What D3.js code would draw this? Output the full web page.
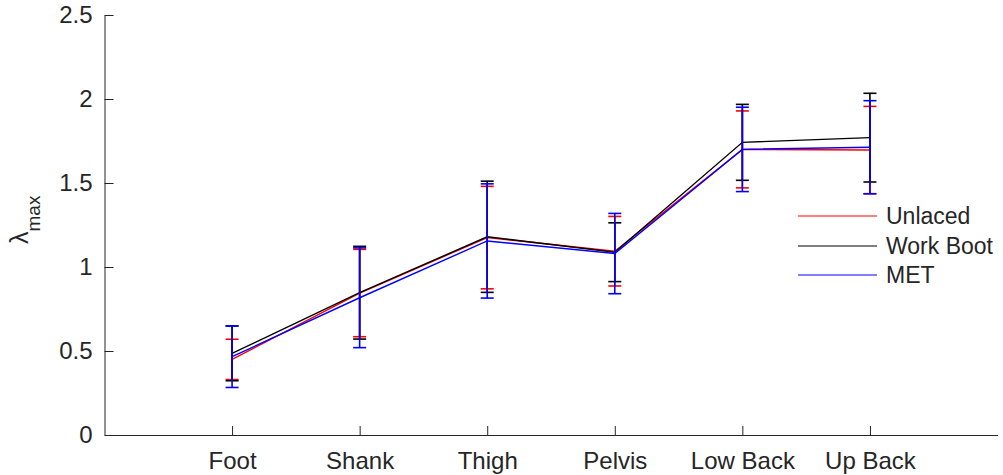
<!DOCTYPE html>
<html>
<head>
<meta charset="utf-8">
<script src="https://cdn.jsdelivr.net/npm/d3@7"></script>
<style>
  html, body { margin: 0; padding: 0; background: #fff; }
  svg { display: block; font-family: "Liberation Sans", Arial, sans-serif; }
</style>
</head>
<body>
<svg id="chart" width="1003" height="475"></svg>
<script>
// Body segments along the x axis
const segments = ["Foot", "Shank", "Thigh", "Pelvis", "Low Back", "Up Back"];
const yTicks = [0, 0.5, 1, 1.5, 2, 2.5];

// Mean lambda_max per segment and its error (half-length of the bar)
const unlacedMean   = [0.450, 0.845, 1.175, 1.094, 1.700, 1.696];
const unlacedErr    = [0.120, 0.260, 0.305, 0.207, 0.229, 0.260];
const workBootMean  = [0.486, 0.847, 1.180, 1.088, 1.742, 1.770];
const workBootErr   = [0.163, 0.276, 0.331, 0.175, 0.226, 0.264];
const metMean       = [0.466, 0.817, 1.155, 1.080, 1.700, 1.713];
const metErr        = [0.183, 0.297, 0.340, 0.239, 0.251, 0.277];

const seriesNames  = ["Unlaced", "Work Boot", "MET"];
const seriesColors = ["#ff0000", "#000000", "#0000ff"];

const series = [
  { name: seriesNames[0], color: seriesColors[0], mean: unlacedMean,  err: unlacedErr },
  { name: seriesNames[1], color: seriesColors[1], mean: workBootMean, err: workBootErr },
  { name: seriesNames[2], color: seriesColors[2], mean: metMean,      err: metErr }
];

const svg = d3.select("#chart");
const axisColor = "#262626";

const x = d3.scalePoint().domain(segments).range([104.5, 997.5]).padding(1);
const y = d3.scaleLinear().domain([0, 2.5]).range([435, 15]);

// Y axis (ticks pointing inward)
const yAxis = svg.append("g")
  .attr("transform", "translate(104.5,0)")
  .call(d3.axisRight(y).tickValues(yTicks).tickSize(9).tickSizeOuter(0)
        .tickFormat(d => String(d)));
yAxis.select(".domain").attr("stroke", axisColor);
yAxis.selectAll(".tick line").attr("stroke", axisColor);
yAxis.selectAll(".tick text")
  .attr("x", -12).attr("text-anchor", "end")
  .attr("fill", axisColor).style("font-size", "24px");

// X axis (ticks pointing inward)
const xAxis = svg.append("g")
  .attr("transform", "translate(0,435)")
  .call(d3.axisTop(x).tickSize(9).tickSizeOuter(0));
xAxis.select(".domain").attr("stroke", axisColor);
xAxis.selectAll(".tick line").attr("stroke", axisColor);
xAxis.selectAll(".tick text")
  .attr("y", 34).attr("dy", 0)
  .attr("fill", axisColor).style("font-size", "24px");

// Y axis label: lambda with subscript "max"
const yl = svg.append("text")
  .attr("transform", "translate(28,244) rotate(-90)")
  .attr("fill", axisColor)
  .style("font-size", "25px");
yl.append("tspan").text("\u03BB");
yl.append("tspan").attr("dy", 12).style("font-size", "19px").text("max");

// Error bars and mean lines, one series after another
const capHalf = 6.5;
const line = d3.line().x(d => x(d.seg)).y(d => y(d.v));

series.forEach(s => {
  const pts = segments.map((seg, i) => ({ seg, v: s.mean[i], e: s.err[i] }));
  const g = svg.append("g");
  g.append("path")
    .datum(pts)
    .attr("fill", "none")
    .attr("stroke", s.color)
    .attr("stroke-width", 1.4)
    .attr("d", line);
  const bars = g.selectAll(".bar").data(pts).enter().append("g");
  bars.append("line")
    .attr("x1", d => x(d.seg)).attr("x2", d => x(d.seg))
    .attr("y1", d => y(d.v - d.e)).attr("y2", d => y(d.v + d.e))
    .attr("stroke", s.color).attr("stroke-width", 1.6);
  bars.append("line")
    .attr("x1", d => x(d.seg) - capHalf).attr("x2", d => x(d.seg) + capHalf)
    .attr("y1", d => y(d.v + d.e)).attr("y2", d => y(d.v + d.e))
    .attr("stroke", s.color).attr("stroke-width", 1.6);
  bars.append("line")
    .attr("x1", d => x(d.seg) - capHalf).attr("x2", d => x(d.seg) + capHalf)
    .attr("y1", d => y(d.v - d.e)).attr("y2", d => y(d.v - d.e))
    .attr("stroke", s.color).attr("stroke-width", 1.6);
});

// Legend
const legend = svg.append("g");
const legendY = [216, 246, 275];
series.forEach((s, i) => {
  legend.append("line")
    .attr("x1", 798).attr("x2", 877)
    .attr("y1", legendY[i]).attr("y2", legendY[i])
    .attr("stroke", s.color).attr("stroke-width", 1.2);
  legend.append("text")
    .attr("x", 886).attr("y", legendY[i]).attr("dy", "0.35em")
    .attr("fill", axisColor)
    .style("font-size", "23px")
    .text(s.name);
});
</script>
</body>
</html>
